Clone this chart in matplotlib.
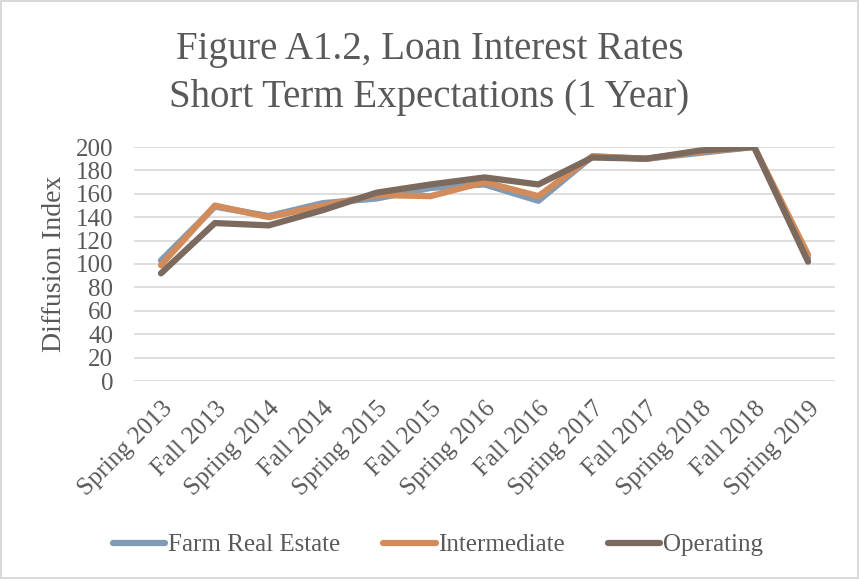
import matplotlib

matplotlib.use("Agg")
import matplotlib.pyplot as plt

periods = [
    "Spring 2013", "Fall 2013", "Spring 2014", "Fall 2014", "Spring 2015",
    "Fall 2015", "Spring 2016", "Fall 2016", "Spring 2017", "Fall 2017",
    "Spring 2018", "Fall 2018", "Spring 2019",
]
farm_real_estate = [103, 149, 141, 152, 156, 165, 168, 154, 192, 190, 195, 200, 105]
intermediate = [99, 150, 140, 150, 159, 158, 170, 158, 192, 190, 196, 200, 108]
operating = [92, 135, 133, 146, 161, 168, 174, 168, 191, 190, 197, 200, 102]

series_names = ["Farm Real Estate", "Intermediate", "Operating"]
colors = ["#7f9bb5", "#d28c5b", "#7d6a5e"]

plt.rcParams["font.family"] = ["Liberation Serif", "DejaVu Serif"]
text_color = "#595959"

fig = plt.figure(figsize=(8.59, 5.79), dpi=100)
fig.patch.set_edgecolor("#d9d9d9")
fig.patch.set_linewidth(1.5)
ax = fig.add_axes([134 / 859, 1 - 381 / 579, (835 - 134) / 859, (381 - 147) / 579])

x = list(range(len(periods)))
for vals, name, c in zip([farm_real_estate, intermediate, operating], series_names, colors):
    ax.plot(x, vals, color=c, lw=4.5, label=name, solid_capstyle="round", solid_joinstyle="round")

ax.set_xlim(-0.5, len(periods) - 0.5)
ax.set_ylim(0, 200)
ax.set_yticks(range(0, 201, 20))
ax.yaxis.grid(True, color="#d9d9d9", lw=1.2)
ax.set_axisbelow(True)
for s in ax.spines.values():
    s.set_visible(False)
ax.tick_params(length=0, labelsize=18, colors=text_color)
ax.tick_params(axis="y", pad=15)
ax.set_xticks(x)
ax.set_xticklabels(periods, rotation=45, ha="right", rotation_mode="anchor")
ax.tick_params(axis="x", pad=12)
ax.set_ylabel("Diffusion Index", fontsize=20, color=text_color, labelpad=6)

fig.text(0.5, 1 - 50 / 579, "Figure A1.2, Loan Interest Rates", ha="center", va="center",
         fontsize=28, color=text_color)
fig.text(0.5, 1 - 97 / 579, "Short Term Expectations (1 Year)", ha="center", va="center",
         fontsize=28, color=text_color)

fig.legend(loc="center", bbox_to_anchor=(438 / 859, 1 - 545 / 579), ncol=3, frameon=False,
           fontsize=18, labelcolor=text_color, handlelength=2.1, handletextpad=0.12,
           columnspacing=1.7)

fig.savefig("out.png", dpi=100)
